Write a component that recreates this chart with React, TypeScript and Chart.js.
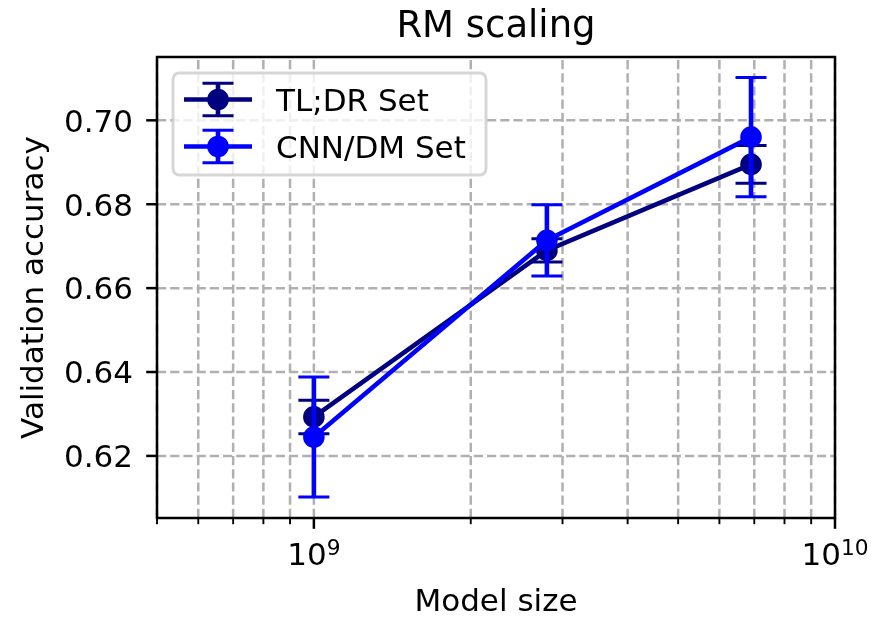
import React, { useEffect, useRef } from "react";
import { Chart, registerables } from "chart.js";

Chart.register(...registerables);

// ---- data ----
const modelSizes = [1e9, 2.8e9, 6.9e9];
const seriesLabels = ["TL;DR Set", "CNN/DM Set"];
const tldrAcc = [0.6293, 0.669, 0.6895];
const tldrErr = [0.004, 0.0028, 0.0045];
const cnnAcc = [0.6245, 0.6714, 0.696];
const cnnErr = [0.0143, 0.0085, 0.0142];
const seriesColors = ["#000080", "#0000ff"];
const yTicks = [0.62, 0.64, 0.66, 0.68, 0.7];
const xMajorTicks = [1e9, 1e10];
const xMajorExps = ["9", "10"];
const xMinorTicks = [5e8, 6e8, 7e8, 8e8, 9e8, 2e9, 3e9, 4e9, 5e9, 6e9, 7e9, 8e9, 9e9];
const xMin = 5e8;
const xMax = 1e10;
const yMin = 0.6052;
const yMax = 0.7151;
const titleText = "RM scaling";
const xLabelText = "Model size";
const yLabelText = "Validation accuracy";

const seriesValues = [tldrAcc, cnnAcc];
const seriesErrors = [tldrErr, cnnErr];

const FONT = "'DejaVu Sans', 'Liberation Sans', sans-serif";
const LINE_W = 4.6;
const CAP_W = 3;
const CAP_HALF = 15.5;
const PT_R = 9.3;

function drawErrorGlyph(ctx: CanvasRenderingContext2D, x: number, yLo: number, yHi: number, color: string) {
  ctx.save();
  ctx.strokeStyle = color;
  ctx.lineCap = "butt";
  ctx.lineWidth = LINE_W;
  ctx.beginPath();
  ctx.moveTo(x, yLo);
  ctx.lineTo(x, yHi);
  ctx.stroke();
  ctx.lineWidth = CAP_W;
  ctx.beginPath();
  ctx.moveTo(x - CAP_HALF, yLo);
  ctx.lineTo(x + CAP_HALF, yLo);
  ctx.moveTo(x - CAP_HALF, yHi);
  ctx.lineTo(x + CAP_HALF, yHi);
  ctx.stroke();
  ctx.restore();
}

const decorPlugin = {
  id: "mplDecor",
  beforeDatasetsDraw(chart: any) {
    const { ctx, chartArea: a, scales } = chart;
    const xs = scales.x;
    const ys = scales.y;
    ctx.save();
    ctx.strokeStyle = "#b0b0b0";
    ctx.lineWidth = 2.5;
    ctx.setLineDash([9.2, 4]);
    [...xMinorTicks, ...xMajorTicks].forEach((v) => {
      const px = xs.getPixelForValue(v);
      ctx.beginPath();
      ctx.moveTo(px, a.bottom);
      ctx.lineTo(px, a.top);
      ctx.stroke();
    });
    yTicks.forEach((v) => {
      const py = ys.getPixelForValue(v);
      ctx.beginPath();
      ctx.moveTo(a.left, py);
      ctx.lineTo(a.right, py);
      ctx.stroke();
    });
    ctx.restore();
  },
  beforeDatasetDraw(chart: any, args: any) {
    const i = args.index;
    const { ctx, scales } = chart;
    const vals = seriesValues[i];
    const errs = seriesErrors[i];
    modelSizes.forEach((m, k) => {
      const px = scales.x.getPixelForValue(m);
      const lo = scales.y.getPixelForValue(vals[k] - errs[k]);
      const hi = scales.y.getPixelForValue(vals[k] + errs[k]);
      drawErrorGlyph(ctx, px, lo, hi, seriesColors[i]);
    });
  },
  afterDatasetsDraw(chart: any) {
    const { ctx, chartArea: a, scales } = chart;
    const xs = scales.x;
    const ys = scales.y;
    ctx.save();
    // frame
    ctx.strokeStyle = "#000";
    ctx.lineWidth = 2.5;
    ctx.strokeRect(a.left, a.top, a.right - a.left, a.bottom - a.top);

    // y ticks
    ctx.fillStyle = "#000";
    ctx.font = `31px ${FONT}`;
    ctx.textAlign = "right";
    ctx.textBaseline = "alphabetic";
    yTicks.forEach((v) => {
      const py = ys.getPixelForValue(v);
      ctx.lineWidth = 2.5;
      ctx.beginPath();
      ctx.moveTo(a.left - 10.8, py);
      ctx.lineTo(a.left, py);
      ctx.stroke();
      ctx.fillText(v.toFixed(2), a.left - 24, py + 11.3);
    });

    // x minor ticks
    ctx.lineWidth = 1.9;
    xMinorTicks.forEach((v) => {
      const px = xs.getPixelForValue(v);
      ctx.beginPath();
      ctx.moveTo(px, a.bottom);
      ctx.lineTo(px, a.bottom + 6.2);
      ctx.stroke();
    });
    // x major ticks + labels
    xMajorTicks.forEach((v, k) => {
      const px = xs.getPixelForValue(v);
      ctx.lineWidth = 2.5;
      ctx.beginPath();
      ctx.moveTo(px, a.bottom);
      ctx.lineTo(px, a.bottom + 10.8);
      ctx.stroke();
      ctx.font = `31px ${FONT}`;
      const wBase = ctx.measureText("10").width;
      ctx.font = `21.7px ${FONT}`;
      const wExp = ctx.measureText(xMajorExps[k]).width;
      const start = px - (wBase + wExp) / 2;
      ctx.textAlign = "left";
      ctx.font = `31px ${FONT}`;
      ctx.fillText("10", start, 565);
      ctx.font = `21.7px ${FONT}`;
      ctx.fillText(xMajorExps[k], start + wBase, 555);
    });

    // title
    const cx = (a.left + a.right) / 2;
    ctx.textAlign = "center";
    ctx.font = `37px ${FONT}`;
    ctx.fillText(titleText, cx, 37);
    // x label
    ctx.font = `31px ${FONT}`;
    ctx.fillText(xLabelText, cx, 611);
    // y label
    ctx.save();
    ctx.translate(43, (a.top + a.bottom) / 2);
    ctx.rotate(-Math.PI / 2);
    ctx.fillText(yLabelText, 0, 0);
    ctx.restore();

    // legend
    const bx = 173, by = 73, bw = 313, bh = 102, r = 7;
    ctx.beginPath();
    ctx.moveTo(bx + r, by);
    ctx.lineTo(bx + bw - r, by);
    ctx.quadraticCurveTo(bx + bw, by, bx + bw, by + r);
    ctx.lineTo(bx + bw, by + bh - r);
    ctx.quadraticCurveTo(bx + bw, by + bh, bx + bw - r, by + bh);
    ctx.lineTo(bx + r, by + bh);
    ctx.quadraticCurveTo(bx, by + bh, bx, by + bh - r);
    ctx.lineTo(bx, by + r);
    ctx.quadraticCurveTo(bx, by, bx + r, by);
    ctx.closePath();
    ctx.fillStyle = "rgba(255,255,255,0.8)";
    ctx.fill();
    ctx.strokeStyle = "rgba(204,204,204,0.8)";
    ctx.lineWidth = 3;
    ctx.stroke();

    const rows = [99.5, 146.5];
    seriesLabels.forEach((lab, i) => {
      const cy = rows[i];
      const col = seriesColors[i];
      ctx.strokeStyle = col;
      ctx.lineWidth = LINE_W;
      ctx.lineCap = "butt";
      ctx.beginPath();
      ctx.moveTo(184, cy);
      ctx.lineTo(252, cy);
      ctx.stroke();
      drawErrorGlyph(ctx, 218, cy + 16.2, cy - 16.2, col);
      ctx.beginPath();
      ctx.arc(218, cy, PT_R, 0, Math.PI * 2);
      ctx.fillStyle = col;
      ctx.fill();
      ctx.lineWidth = 3;
      ctx.strokeStyle = col;
      ctx.stroke();
      ctx.fillStyle = "#000";
      ctx.textAlign = "left";
      ctx.font = `31px ${FONT}`;
      ctx.fillText(lab, 276, cy + 11);
    });
    ctx.restore();
  },
};

export default function App() {
  const canvasRef = useRef<HTMLCanvasElement | null>(null);

  useEffect(() => {
    const canvas = canvasRef.current;
    if (!canvas) return;
    const datasets = seriesLabels.map((label, i) => ({
      label,
      data: modelSizes.map((m, k) => ({ x: m, y: seriesValues[i][k] })),
      borderColor: seriesColors[i],
      backgroundColor: seriesColors[i],
      pointBackgroundColor: seriesColors[i],
      pointBorderColor: seriesColors[i],
      borderWidth: LINE_W,
      pointRadius: PT_R,
      pointBorderWidth: 3,
      pointHoverRadius: PT_R,
      borderJoinStyle: "round" as const,
      tension: 0,
      fill: false,
      clip: false as any,
      order: i === 0 ? 1 : 0,
    }));
    const chart = new Chart(canvas, {
      type: "line",
      data: { datasets },
      options: {
        animation: false,
        responsive: false,
        maintainAspectRatio: false,
        devicePixelRatio: 1,
        layout: { padding: { left: 157, top: 57, right: 39, bottom: 100 } },
        scales: {
          x: { type: "logarithmic", min: xMin, max: xMax, display: false },
          y: { type: "linear", min: yMin, max: yMax, display: false },
        },
        plugins: {
          legend: { display: false },
          title: { display: false },
          tooltip: { enabled: false },
        },
        events: [],
      },
      plugins: [decorPlugin],
    });
    return () => chart.destroy();
  }, []);

  return (
    <div style={{ position: "fixed", left: 0, top: 0, width: 874, height: 618, background: "#fff" }}>
      <canvas ref={canvasRef} width={874} height={618} style={{ width: 874, height: 618, display: "block" }} />
    </div>
  );
}
